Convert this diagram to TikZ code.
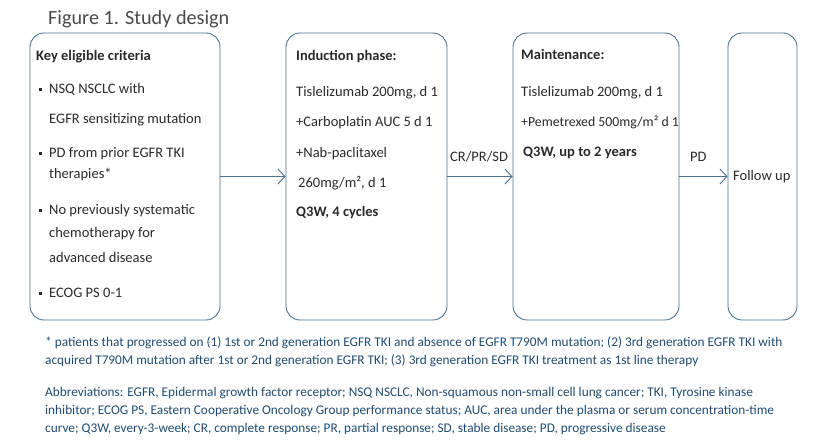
\documentclass[tikz,border=0pt]{standalone}
\usepackage{fontspec}
\setmainfont{Carlito}
\usetikzlibrary{arrows.meta}
\definecolor{frame}{HTML}{4A7293}
\definecolor{ink}{HTML}{2A2A2A}
\definecolor{note}{HTML}{1F4B73}
\newcommand{\bx}{\fontsize{14.5}{16}\selectfont}
\newcommand{\nt}{\fontsize{13.3}{15}\selectfont}
\newcommand{\bul}{\rule[0.22em]{0.2em}{0.2em}}

\begin{document}
\begin{tikzpicture}[x=1pt,y=-1pt,
  box/.style ={draw=frame, line width=0.9pt, rounded corners=14pt, inner sep=0pt},
  link/.style={draw=frame, line width=0.9pt, -{Straight Barb[length=7pt,width=15pt]}},
  txt/.style ={anchor=base west, inner sep=0pt, text=ink, font=\bx},
  note/.style={anchor=base west, inner sep=0pt, text=note, font=\nt}]
  \useasboundingbox (0,0) rectangle (836,446);
  \node[anchor=base west, inner sep=0pt, text=ink!85, font=\fontsize{20.2}{24}\selectfont]
       (title) at (48,25) {Figure 1. Study design};
  \node[box, minimum width=190pt, minimum height=287pt] (crit) at (125.0,176.5) {};
  \node[box, minimum width=161pt, minimum height=287pt] (ind)  at (366.5,176.5) {};
  \node[box, minimum width=166pt, minimum height=287pt] (mnt)  at (596.0,176.5) {};
  \node[box, minimum width= 69pt, minimum height=287pt] (fup)  at (762.5,176.5) {};
  \draw[link] (crit) -- (ind);
  \draw[link] (ind)  -- (mnt);
  \draw[link] (mnt)  -- (fup);
  \node[txt, font=\bx\bfseries] (c0) at ( 36, 61) {Key eligible criteria};
  \node[txt] (b1) at ( 39, 94) {\bul};
  \node[txt] (c1) at ( 49, 94) {NSQ NSCLC with};
  \node[txt] (c2) at ( 49,124) {EGFR sensitizing mutation};
  \node[txt] (b2) at ( 39,158) {\bul};
  \node[txt] (c3) at ( 49,158) {PD from prior EGFR TKI};
  \node[txt] (c4) at ( 49,179) {therapies*};
  \node[txt] (b3) at ( 39,215) {\bul};
  \node[txt] (c5) at ( 49,215) {No previously systematic};
  \node[txt] (c6) at ( 49,238) {chemotherapy for};
  \node[txt] (c7) at ( 49,263) {advanced disease};
  \node[txt] (b4) at ( 39,298) {\bul};
  \node[txt] (c8) at ( 49,298) {ECOG PS 0-1};
  \node[txt, font=\bx\bfseries] (i0) at (296, 61) {Induction phase:};
  \node[txt] (i1) at (296, 97) {Tislelizumab 200mg, d 1};
  \node[txt] (i2) at (296,127) {+Carboplatin AUC 5 d 1};
  \node[txt] (i3) at (296,158) {+Nab-paclitaxel};
  \node[txt] (i4) at (298,188) {260mg/m², d 1};
  \node[txt, font=\bx\bfseries] (i5) at (296,217) {Q3W, 4 cycles};
  \node[txt] (rsp) at (450,162) {CR/PR/SD};
  \node[txt, font=\bx\bfseries] (m0) at (521, 60) {Maintenance:};
  \node[txt] (m1) at (521, 97) {Tislelizumab 200mg, d 1};
  \node[txt, font=\fontsize{13.8}{16}\selectfont] (m2) at (521,127) {+Pemetrexed 500mg/m² d 1};
  \node[txt, font=\bx\bfseries] (m3) at (523,157) {Q3W, up to 2 years};
  \node[txt] (pd) at (690,162) {PD};
  \node[txt] (f0) at (733,181) {Follow up};
  \node[note] (n1) at (45,347) {* patients that progressed on (1) 1st or 2nd generation EGFR TKI and absence of EGFR T790M mutation; (2) 3rd generation EGFR TKI with};
  \node[note] (n2) at (45,365) {acquired T790M mutation after 1st or 2nd generation EGFR TKI; (3) 3rd generation EGFR TKI treatment as 1st line therapy};
  \node[note] (a1) at (45,397) {Abbreviations: EGFR, Epidermal growth factor receptor; NSQ NSCLC, Non-squamous non-small cell lung cancer; TKI, Tyrosine kinase};
  \node[note] (a2) at (45,415) {inhibitor; ECOG PS, Eastern Cooperative Oncology Group performance status; AUC, area under the plasma or serum concentration-time};
  \node[note] (a3) at (45,433) {curve; Q3W, every-3-week; CR, complete response; PR, partial response; SD, stable disease; PD, progressive disease};
\end{tikzpicture}
\end{document}
